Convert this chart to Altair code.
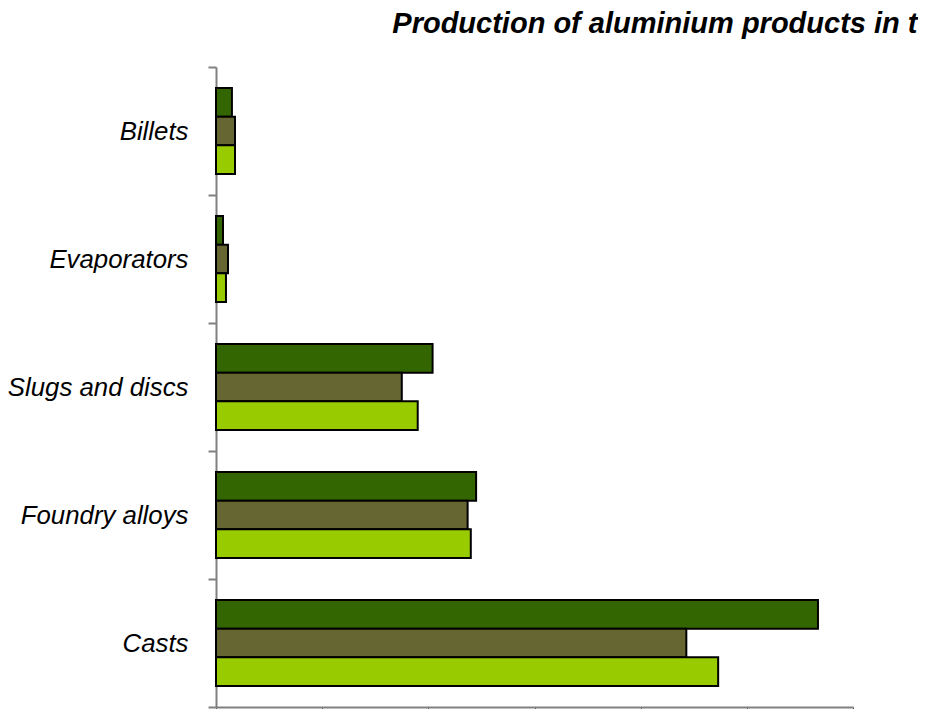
import altair as alt
import pandas as pd

categories = ["Billets", "Evaporators", "Slugs and discs", "Foundry alloys", "Casts"]
series_names = ["Series A", "Series B", "Series C"]
series_a = [1500, 660, 20400, 24500, 56700]
series_b = [1790, 1130, 17500, 23700, 44300]
series_c = [1790, 940, 19000, 24000, 47300]
colors = ["#336600", "#666633", "#99cc00"]

rows = []
for vals, name in zip([series_a, series_b, series_c], series_names):
    for cat, v in zip(categories, vals):
        rows.append({"category": cat, "series": name, "value": v})
df = pd.DataFrame(rows)

chart = alt.Chart(df).mark_bar(stroke="black", strokeWidth=2).encode(
    y=alt.Y("category:N", sort=categories,
            scale=alt.Scale(paddingInner=0, paddingOuter=0),
            axis=alt.Axis(title=None, tickBand="extent", domainColor="#808080", domainWidth=2,
                          tickColor="#808080", tickWidth=2, tickSize=8, labelLimit=400,
                          labelFont="Liberation Sans", labelFontStyle="italic", labelFontSize=25.8,
                          labelColor="black", labelPadding=20)),
    yOffset=alt.YOffset("series:N", sort=series_names, scale=alt.Scale(paddingInner=0, paddingOuter=0.73)),
    x=alt.X("value:Q", scale=alt.Scale(domain=[0, 60000], nice=False),
            axis=alt.Axis(title=None, labels=False, values=[0, 10000, 20000, 30000, 40000, 50000, 60000],
                          domainColor="#808080", domainWidth=2, tickColor="#404040", tickWidth=1,
                          tickSize=5, grid=False)),
    color=alt.Color("series:N", sort=series_names, scale=alt.Scale(domain=series_names, range=colors), legend=None),
).properties(
    width=637, height=640,
    title=alt.Title("Production of aluminium products in t", anchor="end", dx=64, offset=28, dy=13,
                    font="Liberation Sans", fontSize=29, fontWeight="bold", fontStyle="italic", color="black"),
    autosize=alt.AutoSizeParams(type="none"),
    padding={"left": 208, "top": 59, "right": 65, "bottom": 8},
).configure_view(stroke=None)

chart.save("out.html", embed_options={"renderer": "svg", "actions": False})
